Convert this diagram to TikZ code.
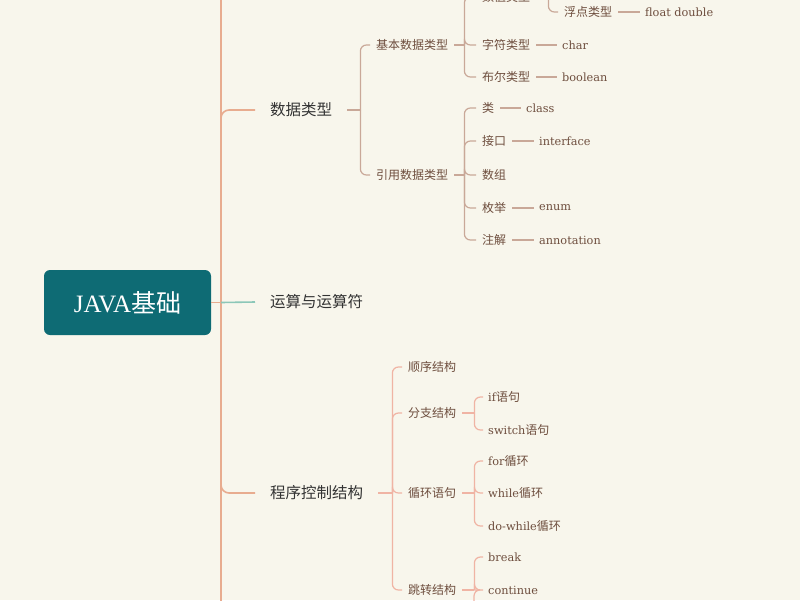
\documentclass[tikz,border=0pt]{standalone}
\usepackage{fontspec}
\setmainfont{Liberation Serif}
\newfontfamily\cjk{Noto Sans CJK SC}
\newfontfamily\leaffont{DejaVu Serif}
\newcommand{\zh}[1]{{\cjk #1}}
\newcommand{\zhl}[1]{{\fontsize{12}{13}\selectfont\cjk #1}}
\definecolor{paper}{HTML}{F8F6EC}
\definecolor{rootfill}{HTML}{0E6B74}
\definecolor{trunkcol}{HTML}{E8AC8F}
\definecolor{tealcol}{HTML}{8CC7B8}
\definecolor{datacol}{HTML}{C9A898}
\definecolor{ctrlcol}{HTML}{F0B4A4}
\definecolor{maintext}{HTML}{333333}
\definecolor{subtext}{HTML}{6E4E3E}

\begin{document}
\begin{tikzpicture}[x=1pt,y=-1pt,
  rootbox/.style={fill=rootfill,rounded corners=6pt,minimum width=167pt,minimum height=65pt,text=white,font=\fontsize{25}{28}\selectfont},
  topic/.style={anchor=west,inner xsep=15pt,font=\fontsize{15.5}{17}\selectfont\cjk,text=maintext},
  sub/.style={anchor=west,inner xsep=6pt,font=\fontsize{12}{13}\selectfont\cjk,text=subtext},
  leaf/.style={anchor=west,inner xsep=5pt,font=\fontsize{11.3}{13}\selectfont\leaffont,text=subtext},
  trunkline/.style={draw=trunkcol,line width=1.6pt},
  tealline/.style={draw=tealcol,line width=1.6pt},
  dataline/.style={draw=datacol,line width=1.2pt,rounded corners=6pt},
  ctrlline/.style={draw=ctrlcol,line width=1.2pt,rounded corners=6pt}]

\useasboundingbox (0,0) rectangle (800,600);
\clip (0,0) rectangle (800,600);
\fill[paper] (0,0) rectangle (800,600);

% root and main topics
\node[rootbox] (java) at (127.5,302.5) {JAVA\zh{基础}};
\node[topic] (sjlx) at (255,110) {数据类型};
\node[topic] (ysf) at (255,302) {运算与运算符};
\node[topic] (cxkz) at (255,493) {程序控制结构};

% data types
\node[sub] (jbsj) at (370,45) {基本数据类型};
\node[sub] (yysj) at (370,175) {引用数据类型};
\node[sub] (szlx) at (476,-3) {数值类型};
\node[sub] (zflx) at (476,45) {字符类型};
\node[sub] (brlx) at (476,77) {布尔类型};
\node[sub] (fdlx) at (558,12) {浮点类型};
\node[leaf] (fd) at (640,12) {float double};
\node[leaf] (chr) at (557,45) {char};
\node[leaf] (bool) at (557,77) {boolean};
\node[sub] (lei) at (476,108) {类};
\node[leaf] (cls) at (521,108) {class};
\node[sub] (jk) at (476,141) {接口};
\node[leaf] (intf) at (534,141) {interface};
\node[sub] (sz) at (476,175) {数组};
\node[sub] (mj) at (476,208) {枚举};
\node[leaf] (enm) at (534,208) {enum};
\node[sub] (zj) at (476,240) {注解};
\node[leaf] (anno) at (534,240) {annotation};

% control structures
\node[sub] (sxjg) at (402,367) {顺序结构};
\node[sub] (fzjg) at (402,413) {分支结构};
\node[sub] (xhyj) at (402,493) {循环语句};
\node[sub] (tzjg) at (402,590) {跳转结构};
\node[leaf] (ifyj) at (483,397) {if\zhl{语句}};
\node[leaf] (swyj) at (483,430) {switch\zhl{语句}};
\node[leaf] (forxh) at (483,461) {for\zhl{循环}};
\node[leaf] (whxh) at (483,493) {while\zhl{循环}};
\node[leaf] (dwxh) at (483,526) {do-while\zhl{循环}};
\node[leaf] (brk) at (483,557) {break};
\node[leaf] (cont) at (483,590) {continue};

% trunk
\coordinate (trunktop) at (221,-20);
\coordinate (trunkbot) at (221,620);
\coordinate (tzmore) at (474,620);
\draw[trunkline] (trunktop) -- (trunkbot);
\draw[trunkline,rounded corners=8pt] ([yshift=-14pt]sjlx.west -| trunktop) -- (sjlx.west -| trunktop) -- (sjlx.west);
\draw[trunkline,rounded corners=8pt] ([yshift=14pt]cxkz.west -| trunktop) -- (cxkz.west -| trunktop) -- (cxkz.west);
\draw[trunkline] (java.east) -- (java.east -| trunktop);
\draw[tealline] (java.east -| trunktop) -- (ysf.west);

% data type branches
\draw[dataline] (sjlx.east) -- ++(13,0);
\foreach \c in {jbsj,yysj} \draw[dataline] ([xshift=13pt]sjlx.east) |- (\c.west);
\draw[dataline] (jbsj.east) -- ++(10,0);
\foreach \c in {szlx,zflx,brlx} \draw[dataline] ([xshift=10pt]jbsj.east) |- (\c.west);
\draw[dataline] (szlx.east) -- ++(12,0);
\draw[dataline] ([xshift=12pt]szlx.east) |- (fdlx.west);
\draw[dataline] (yysj.east) -- ++(10,0);
\foreach \c in {lei,jk,sz,mj,zj} \draw[dataline] ([xshift=10pt]yysj.east) |- (\c.west);
\draw[dataline] (fdlx.east) -- (fd.west);
\draw[dataline] (zflx.east) -- (chr.west);
\draw[dataline] (brlx.east) -- (bool.west);
\draw[dataline] (lei.east) -- (cls.west);
\draw[dataline] (jk.east) -- (intf.west);
\draw[dataline] (mj.east) -- (enm.west);
\draw[dataline] (zj.east) -- (anno.west);

% control branches
\draw[ctrlline] (cxkz.east) -- ++(14,0);
\foreach \c in {sxjg,fzjg,xhyj,tzjg} \draw[ctrlline] ([xshift=14pt]cxkz.east) |- (\c.west);
\draw[ctrlline] (fzjg.east) -- ++(12,0);
\foreach \c in {ifyj,swyj} \draw[ctrlline] ([xshift=12pt]fzjg.east) |- (\c.west);
\draw[ctrlline] (xhyj.east) -- ++(12,0);
\foreach \c in {forxh,whxh,dwxh} \draw[ctrlline] ([xshift=12pt]xhyj.east) |- (\c.west);
\draw[ctrlline] (tzjg.east) -- ++(12,0);
\foreach \c in {brk,cont} \draw[ctrlline] ([xshift=12pt]tzjg.east) |- (\c.west);
\draw[ctrlline] ([xshift=12pt]tzjg.east) -- (tzjg.east -| tzmore) -- (tzmore);
\end{tikzpicture}
\end{document}
